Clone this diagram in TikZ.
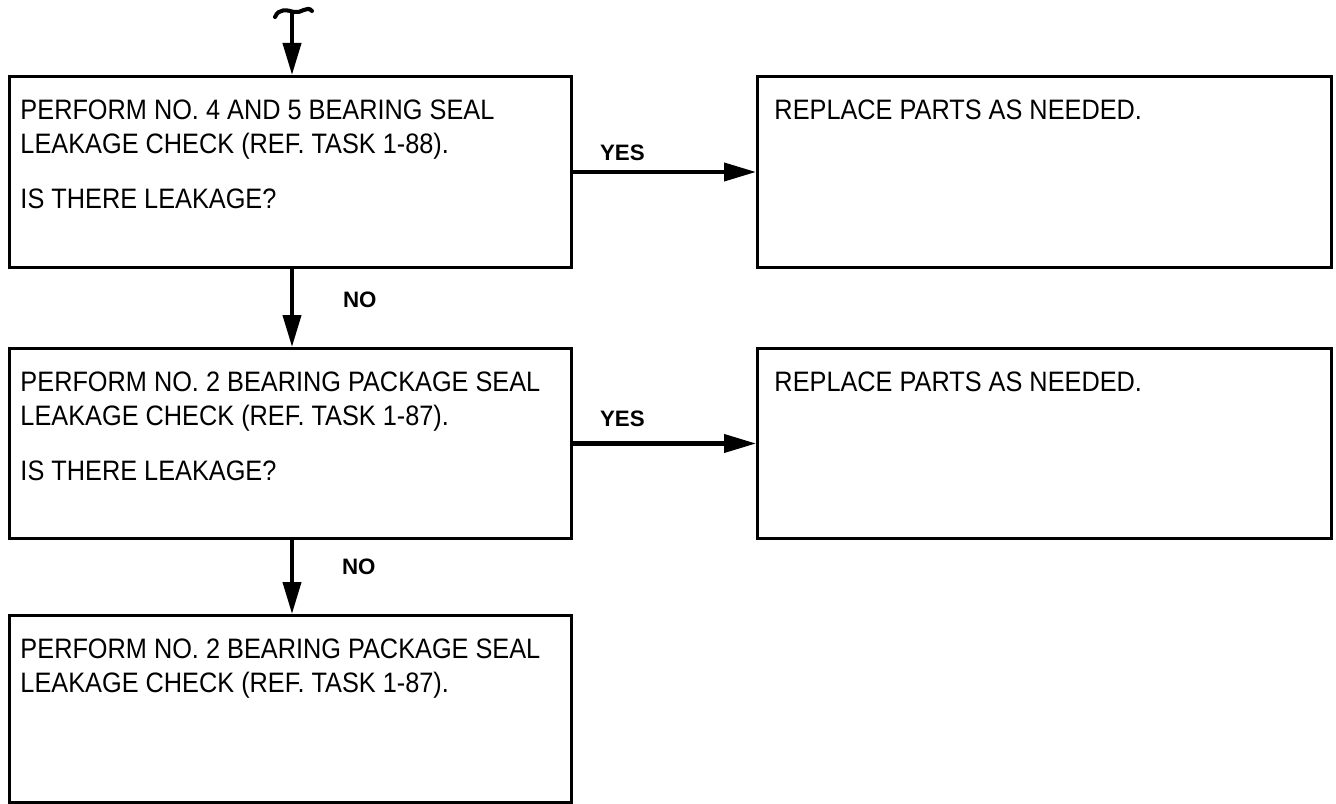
\documentclass[tikz,border=0pt]{standalone}
\usepackage{fontspec}
\setmainfont{Liberation Sans}[FakeStretch=0.9]
\newfontfamily\labelfont{Liberation Sans}
\usetikzlibrary{arrows.meta}
\newcommand{\boxtext}[2][2.9cm]{\parbox[t][#1][t]{10.8cm}{\fontsize{16}{19.3}\selectfont #2}}

\begin{document}
\begin{tikzpicture}[
    stepbox/.style={draw, line width=1.7pt, anchor=north west, inner xsep=0.2cm, inner ysep=0.46cm, minimum width=11.24cm},
    fixbox/.style={stepbox, minimum width=11.48cm},
    flow/.style={line width=2.3pt, -{Triangle[length=0.64cm, width=0.36cm]}},
    answer/.style={font=\fontsize{12.7}{15}\selectfont\labelfont\bfseries, inner sep=0pt}]
    \useasboundingbox (0,0) rectangle (26.72,-16.08);

    \node[stepbox] (check1) at (0.16,-1.50) {\boxtext{PERFORM NO. 4 AND 5 BEARING SEAL\\ LEAKAGE CHECK (REF. TASK 1-88).\\[12pt] IS THERE LEAKAGE?}};
    \node[fixbox] (fix1) at (15.12,-1.50) {\boxtext{REPLACE PARTS AS NEEDED.}};

    \node[stepbox] (check2) at (0.16,-6.94) {\boxtext[2.88cm]{PERFORM NO. 2 BEARING PACKAGE SEAL\\ LEAKAGE CHECK (REF. TASK 1-87).\\[12pt] IS THERE LEAKAGE?}};
    \node[fixbox] (fix2) at (15.12,-6.94) {\boxtext[2.88cm]{REPLACE PARTS AS NEEDED.}};

    \node[stepbox] (check3) at (0.16,-12.28) {\boxtext[2.82cm]{PERFORM NO. 2 BEARING PACKAGE SEAL\\ LEAKAGE CHECK (REF. TASK 1-87).}};

    \coordinate (top) at (5.84,-0.24);
    \draw[line width=2.3pt, line cap=round] (5.50,-0.34) .. controls (5.58,-0.16) and (5.74,-0.20) .. (5.88,-0.24) .. controls (6.02,-0.28) and (6.14,-0.10) .. (6.24,-0.22);
    \draw[flow] (top) -- (top |- check1.north);

    \draw[flow] (check1.east) -- (check1.east -| fix1.west) node[answer, pos=0.27, above=0.18cm] (yes1) {YES};
    \draw[flow] (check1.south -| top) -- (check2.north -| top) node[answer, pos=0.4, right=0.98cm] (no1) {NO};

    \draw[flow] (check2.east) -- (check2.east -| fix2.west) node[answer, pos=0.27, above=0.3cm] (yes2) {YES};
    \draw[flow] (check2.south -| top) -- (check3.north -| top) node[answer, pos=0.36, right=0.96cm] (no2) {NO};
\end{tikzpicture}
\end{document}
